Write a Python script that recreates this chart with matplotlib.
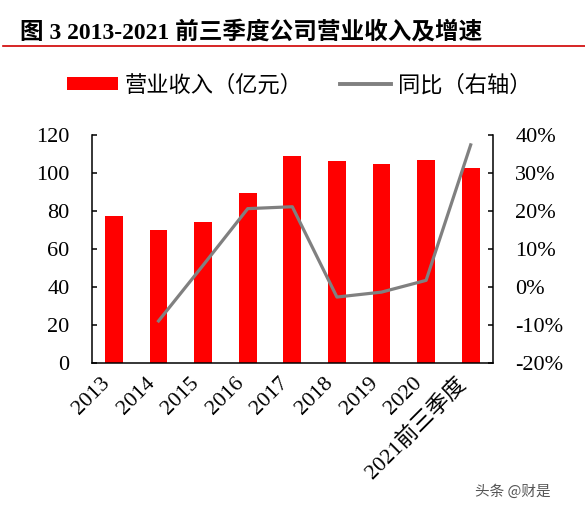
import matplotlib
matplotlib.use("Agg")
import matplotlib.pyplot as plt
import numpy as np
from matplotlib.lines import Line2D

plt.rcParams['font.family'] = ['Liberation Serif', 'Noto Sans CJK SC', 'DejaVu Sans']

# data
years = ['2013', '2014', '2015', '2016', '2017', '2018', '2019', '2020', '2021前三季度']
revenue = [77.2, 70.1, 74.0, 89.7, 108.9, 106.1, 104.9, 106.6, 102.4]   # 亿元
yoy = [np.nan, -9.0, 5.7, 20.6, 21.1, -2.7, -1.4, 1.7, 37.4]           # %

fig = plt.figure(figsize=(5.85, 5.12), dpi=100)
ax = fig.add_axes([0.1567, 0.2916, 0.686, 0.4447])
ax2 = ax.twinx()

x = np.arange(len(years))
bars = ax.bar(x, revenue, width=0.4, color='#ff0000', label='营业收入（亿元）')
line, = ax2.plot(x, yoy, color='#808080', lw=2.3, label='同比（右轴）')

ax.set_xlim(-0.5, len(years) - 0.5)
ax.set_ylim(0, 120)
ax.set_yticks(range(0, 121, 20))
ax2.set_ylim(-20, 40)
ax2.set_yticks(range(-20, 41, 10))
ax2.set_yticklabels([f'{v}%' for v in range(-20, 41, 10)])

ax.set_xticks(x)
ax.set_xticklabels(years, rotation=45, ha='right', va='top')

for a in (ax, ax2):
    a.spines['top'].set_visible(False)
    for s in a.spines.values():
        s.set_linewidth(1.1)
ax.spines['right'].set_visible(False)
ax2.spines['left'].set_visible(False)
ax2.spines['bottom'].set_visible(False)

ax.tick_params(axis='y', direction='in', length=3.5, width=1.1, pad=16, labelsize=16)
ax2.tick_params(axis='y', direction='in', length=3.5, width=1.1, pad=16, labelsize=16)
ax.tick_params(axis='x', length=0, pad=8, labelsize=16)

leg = fig.legend(handles=[bars, line], loc='center', bbox_to_anchor=(0.511, 0.834),
                 ncol=2, frameon=False, prop={'family': ['Noto Sans CJK SC'], 'size': 16},
                 handlelength=2.3, handleheight=0.56, handletextpad=0.3,
                 columnspacing=1.7, borderpad=0, borderaxespad=0)
for h in leg.legend_handles:
    if isinstance(h, Line2D):
        h.set_linewidth(2.8)

fig.text(0.035, 0.9375, '图 3 2013-2021 前三季度公司营业收入及增速', fontsize=17,
         fontweight='bold', ha='left', va='center')
fig.add_artist(Line2D([0.005, 1.0], [0.910, 0.910], color='#d00000', lw=1.2))

fig.text(0.942, 0.039, '头条 @财是', fontsize=10.5, color='#555555', ha='right', va='center',
         family=['Noto Sans CJK SC'])

fig.savefig('out.png', dpi=100)
